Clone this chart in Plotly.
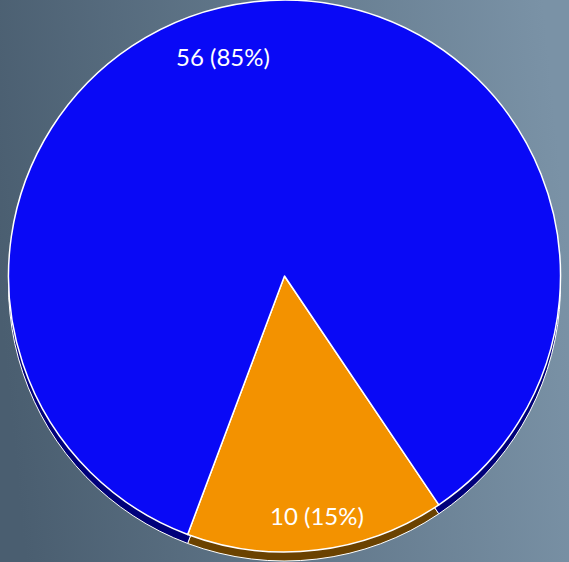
import base64
import math
import plotly.graph_objects as go

# Data
labels = ["B", "A"]
values = [10, 56]
slice_colors = ["#f39200", "#0909f6"]
rim_colors = ["#6b4200", "#00007a"]

W, H = 569, 562

# Background gradient via SVG data URI
svg = f'''<svg xmlns="http://www.w3.org/2000/svg" width="{W}" height="{H}" preserveAspectRatio="none">
<defs><linearGradient id="g" x1="0" y1="0.55" x2="1" y2="0.45">
<stop offset="0" stop-color="#4a5e70"/><stop offset="1" stop-color="#7a92a6"/>
</linearGradient></defs>
<rect width="{W}" height="{H}" fill="url(#g)"/></svg>'''
bg_src = "data:image/svg+xml;base64," + base64.b64encode(svg.encode()).decode()

R = 276
top_dom = 1.0
bot_dom = (H - 2 * R) / H
shift = 9 / H
ROT = 146
base = dict(labels=labels, values=values, sort=False, direction="clockwise",
            rotation=ROT, showlegend=False)

fig = go.Figure()
# 3D rim (shadow pie)
fig.add_trace(go.Pie(
    **base,
    marker=dict(colors=rim_colors, line=dict(color="white", width=1)),
    textinfo="none", hoverinfo="skip",
    domain=dict(x=[0, 1], y=[bot_dom - shift, top_dom - shift]),
))
# Main pie
fig.add_trace(go.Pie(
    **base,
    marker=dict(colors=slice_colors, line=dict(color="white", width=1.5)),
    textinfo="none",
    domain=dict(x=[0, 1], y=[bot_dom, top_dom]),
))

# Data labels placed along each slice's angle (Excel "best fit" style)
total = sum(values)
label_radius = [0.877, 0.826]   # fraction of pie radius
label_angle_adj = [-1.0, -9.0]  # degrees
cx, cy = W / 2, R
cum = 0
annotations = []
for v, rf, adj in zip(values, label_radius, label_angle_adj):
    mid = ROT + (cum + v / 2) / total * 360 + adj
    cum += v
    th = math.radians(mid)
    xp = cx + rf * R * math.sin(th)
    yp = cy - rf * R * math.cos(th)
    pct = round(100 * v / total)
    annotations.append(dict(
        x=xp / W, y=1 - yp / H, xref="paper", yref="paper",
        text=f"{v} ({pct}%)", showarrow=False,
        xanchor="center", yanchor="middle",
        font=dict(family="Lato", size=24, color="white"),
    ))

fig.update_layout(
    width=W, height=H,
    margin=dict(l=0, r=0, t=0, b=0),
    paper_bgcolor="#62788b",
    plot_bgcolor="rgba(0,0,0,0)",
    images=[dict(source=bg_src, xref="paper", yref="paper", x=0, y=1,
                 sizex=1, sizey=1, sizing="stretch", layer="below",
                 xanchor="left", yanchor="top")],
    annotations=annotations,
    showlegend=False,
)

fig.write_html("out.html", config={"displayModeBar": False},
               post_script="document.body.style.margin='0';document.body.style.overflow='hidden';")
